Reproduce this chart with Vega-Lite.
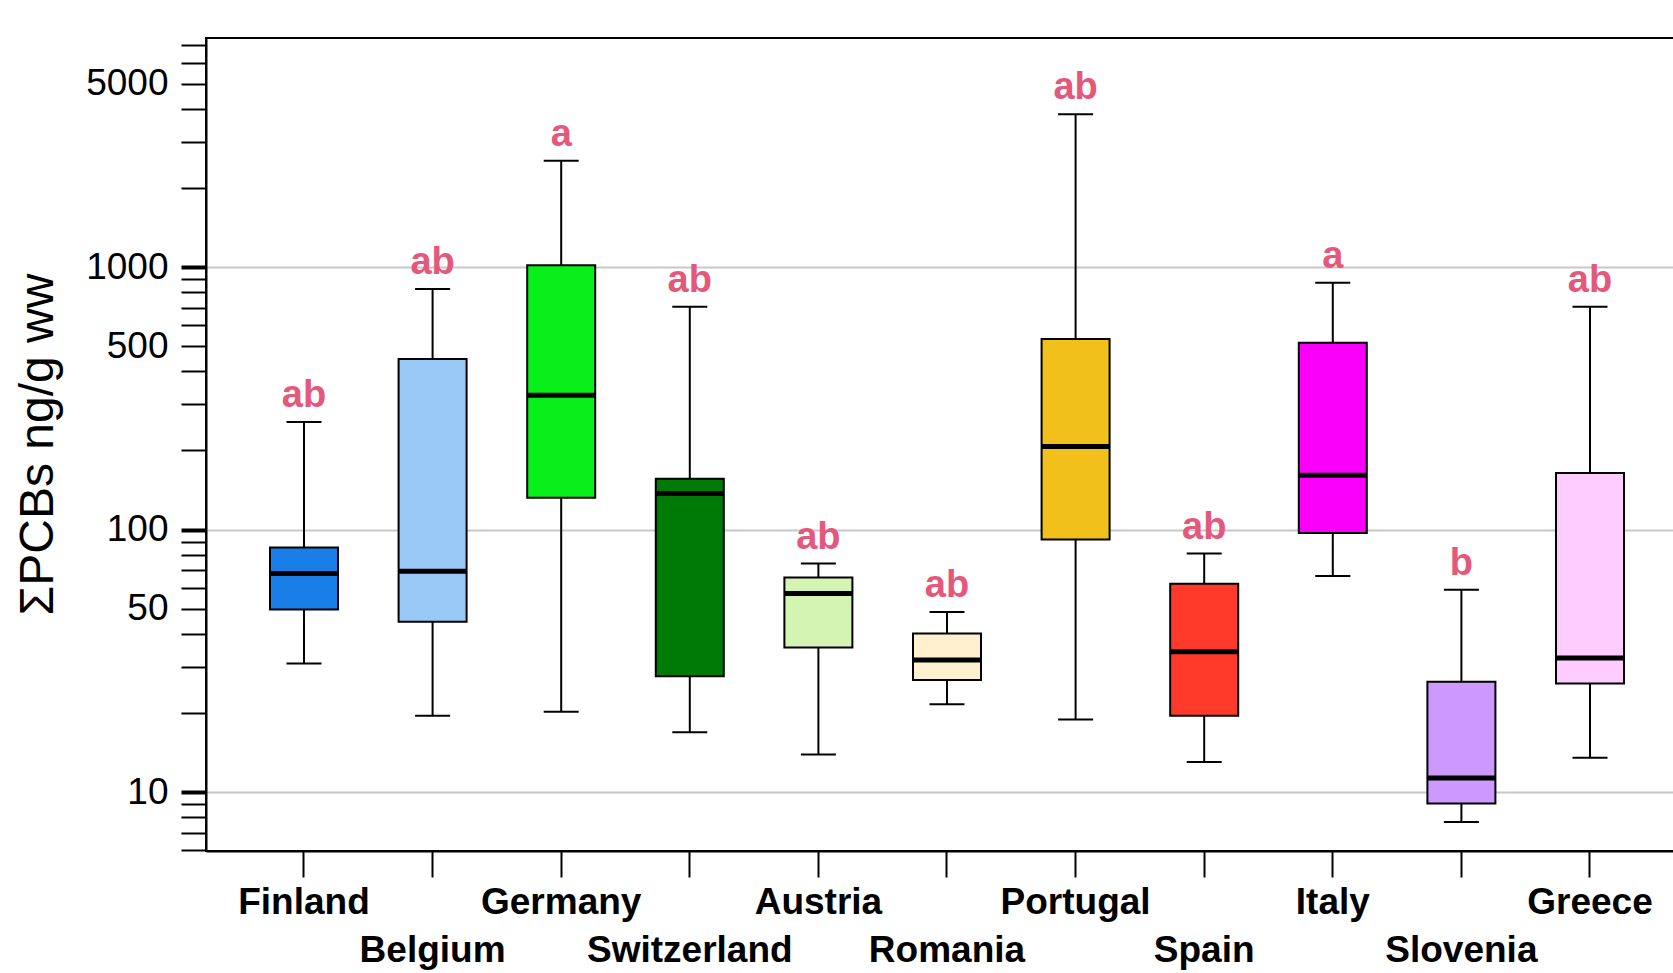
{
  "$schema": "https://vega.github.io/schema/vega-lite/v6.json",
  "width": 1468,
  "height": 813,
  "autosize": "none",
  "padding": {"left": 206, "top": 38, "right": 0, "bottom": 122},
  "background": "white",
  "config": {
    "view": {"stroke": "black", "strokeWidth": 2},
    "font": "Liberation Sans"
  },
  "data": {
    "values": [
      {"country": "Finland", "lower": 30.9, "q1": 49.6, "median": 68.0, "q3": 85.4, "upper": 257, "group": "ab"},
      {"country": "Belgium", "lower": 19.5, "q1": 44.5, "median": 69.3, "q3": 446, "upper": 824, "group": "ab"},
      {"country": "Germany", "lower": 20.2, "q1": 132, "median": 325, "q3": 1015, "upper": 2540, "group": "a"},
      {"country": "Switzerland", "lower": 16.9, "q1": 27.6, "median": 137, "q3": 156, "upper": 706, "group": "ab"},
      {"country": "Austria", "lower": 13.9, "q1": 35.5, "median": 57, "q3": 65.6, "upper": 74.2, "group": "ab"},
      {"country": "Romania", "lower": 21.6, "q1": 26.7, "median": 31.8, "q3": 40.2, "upper": 48.5, "group": "ab"},
      {"country": "Portugal", "lower": 18.9, "q1": 91.6, "median": 207, "q3": 532, "upper": 3820, "group": "ab"},
      {"country": "Spain", "lower": 13.0, "q1": 19.5, "median": 34.2, "q3": 62.2, "upper": 81, "group": "ab"},
      {"country": "Italy", "lower": 66.5, "q1": 97, "median": 161, "q3": 515, "upper": 871, "group": "a"},
      {"country": "Slovenia", "lower": 7.69, "q1": 9.04, "median": 11.3, "q3": 26.3, "upper": 59, "group": "b"},
      {"country": "Greece", "lower": 13.5, "q1": 25.9, "median": 32.4, "q3": 164, "upper": 706, "group": "ab"}
    ]
  },
  "encoding": {
    "x": {
      "field": "country",
      "type": "nominal",
      "sort": null,
      "scale": {"paddingInner": 0, "paddingOuter": 0.2076, "align": 0.631},
      "axis": {
        "title": null,
        "labelAngle": 0,
        "labelExpr": "indexof(['Belgium','Switzerland','Romania','Spain','Slovenia'], datum.value) >= 0 ? ['', datum.value] : datum.value",
        "labelFont": "Liberation Sans",
        "labelFontWeight": "bold",
        "labelFontSize": 37,
        "labelLineHeight": 48,
        "labelLimit": 0,
        "labelColor": "black",
        "labelPadding": 7,
        "labelOverlap": false,
        "tickSize": 26,
        "tickWidth": 2,
        "tickColor": "black",
        "domainColor": "black",
        "domainWidth": 2
      }
    }
  },
  "layer": [
    {
      "mark": {"type": "rule", "color": "black", "strokeWidth": 2},
      "encoding": {
        "y": {
          "field": "lower",
          "type": "quantitative",
          "scale": {"type": "log", "domain": [5.96, 7454], "nice": false},
          "axis": {
            "values": [6, 7, 8, 9, 10, 20, 30, 40, 50, 60, 70, 80, 90, 100, 200, 300, 400, 500, 600, 700, 800, 900, 1000, 2000, 3000, 4000, 5000, 6000, 7000],
            "labelExpr": "indexof([10, 50, 100, 500, 1000, 5000], datum.value) >= 0 ? format(datum.value, 'd') : ''",
            "labelFont": "Liberation Sans",
            "labelFontSize": 37,
            "labelColor": "black",
            "labelPadding": 13,
            "labelOverlap": false,
            "labelBaseline": "middle",
            "tickSize": 25,
            "tickColor": "black",
            "tickWidth": {"condition": {"test": "indexof([10, 100, 1000], datum.value) >= 0", "value": 4}, "value": 2},
            "grid": true,
            "gridColor": "#c8c8c8",
            "gridWidth": 2,
            "gridOpacity": {"condition": {"test": "indexof([10, 100, 1000], datum.value) >= 0", "value": 1}, "value": 0},
            "domainColor": "black",
            "domainWidth": 2,
            "title": "ΣPCBs ng/g ww",
            "titleFont": "Liberation Sans",
            "titleFontSize": 48,
            "titleFontWeight": "normal",
            "titleColor": "black",
            "titleAngle": -90,
            "titleAlign": "center",
            "titleBaseline": "alphabetic",
            "titleX": -154,
            "titleY": 406
          }
        },
        "y2": {"field": "upper"}
      }
    },
    {
      "mark": {"type": "tick", "color": "black", "size": 35, "thickness": 2, "opacity": 1},
      "encoding": {"y": {"field": "lower", "type": "quantitative"}}
    },
    {
      "mark": {"type": "tick", "color": "black", "size": 35, "thickness": 2, "opacity": 1},
      "encoding": {"y": {"field": "upper", "type": "quantitative"}}
    },
    {
      "mark": {"type": "bar", "width": 68, "stroke": "black", "strokeWidth": 2, "opacity": 1},
      "encoding": {
        "y": {"field": "q1", "type": "quantitative"},
        "y2": {"field": "q3"},
        "color": {
          "field": "country",
          "type": "nominal",
          "legend": null,
          "scale": {
            "domain": ["Finland", "Belgium", "Germany", "Switzerland", "Austria", "Romania", "Portugal", "Spain", "Italy", "Slovenia", "Greece"],
            "range": ["#1a7ee8", "#99c9f7", "#08ef1a", "#007a06", "#d4f4b4", "#fff0d0", "#f2c01a", "#ff3a2a", "#fa00fa", "#cc99ff", "#ffccff"]
          }
        }
      }
    },
    {
      "mark": {"type": "tick", "color": "black", "size": 68, "thickness": 5, "opacity": 1},
      "encoding": {"y": {"field": "median", "type": "quantitative"}}
    },
    {
      "mark": {"type": "text", "color": "#e4587c", "font": "Liberation Sans", "fontWeight": "bold", "fontSize": 38, "baseline": "alphabetic", "dy": -15},
      "encoding": {
        "y": {"field": "upper", "type": "quantitative"},
        "text": {"field": "group"}
      }
    }
  ]
}
